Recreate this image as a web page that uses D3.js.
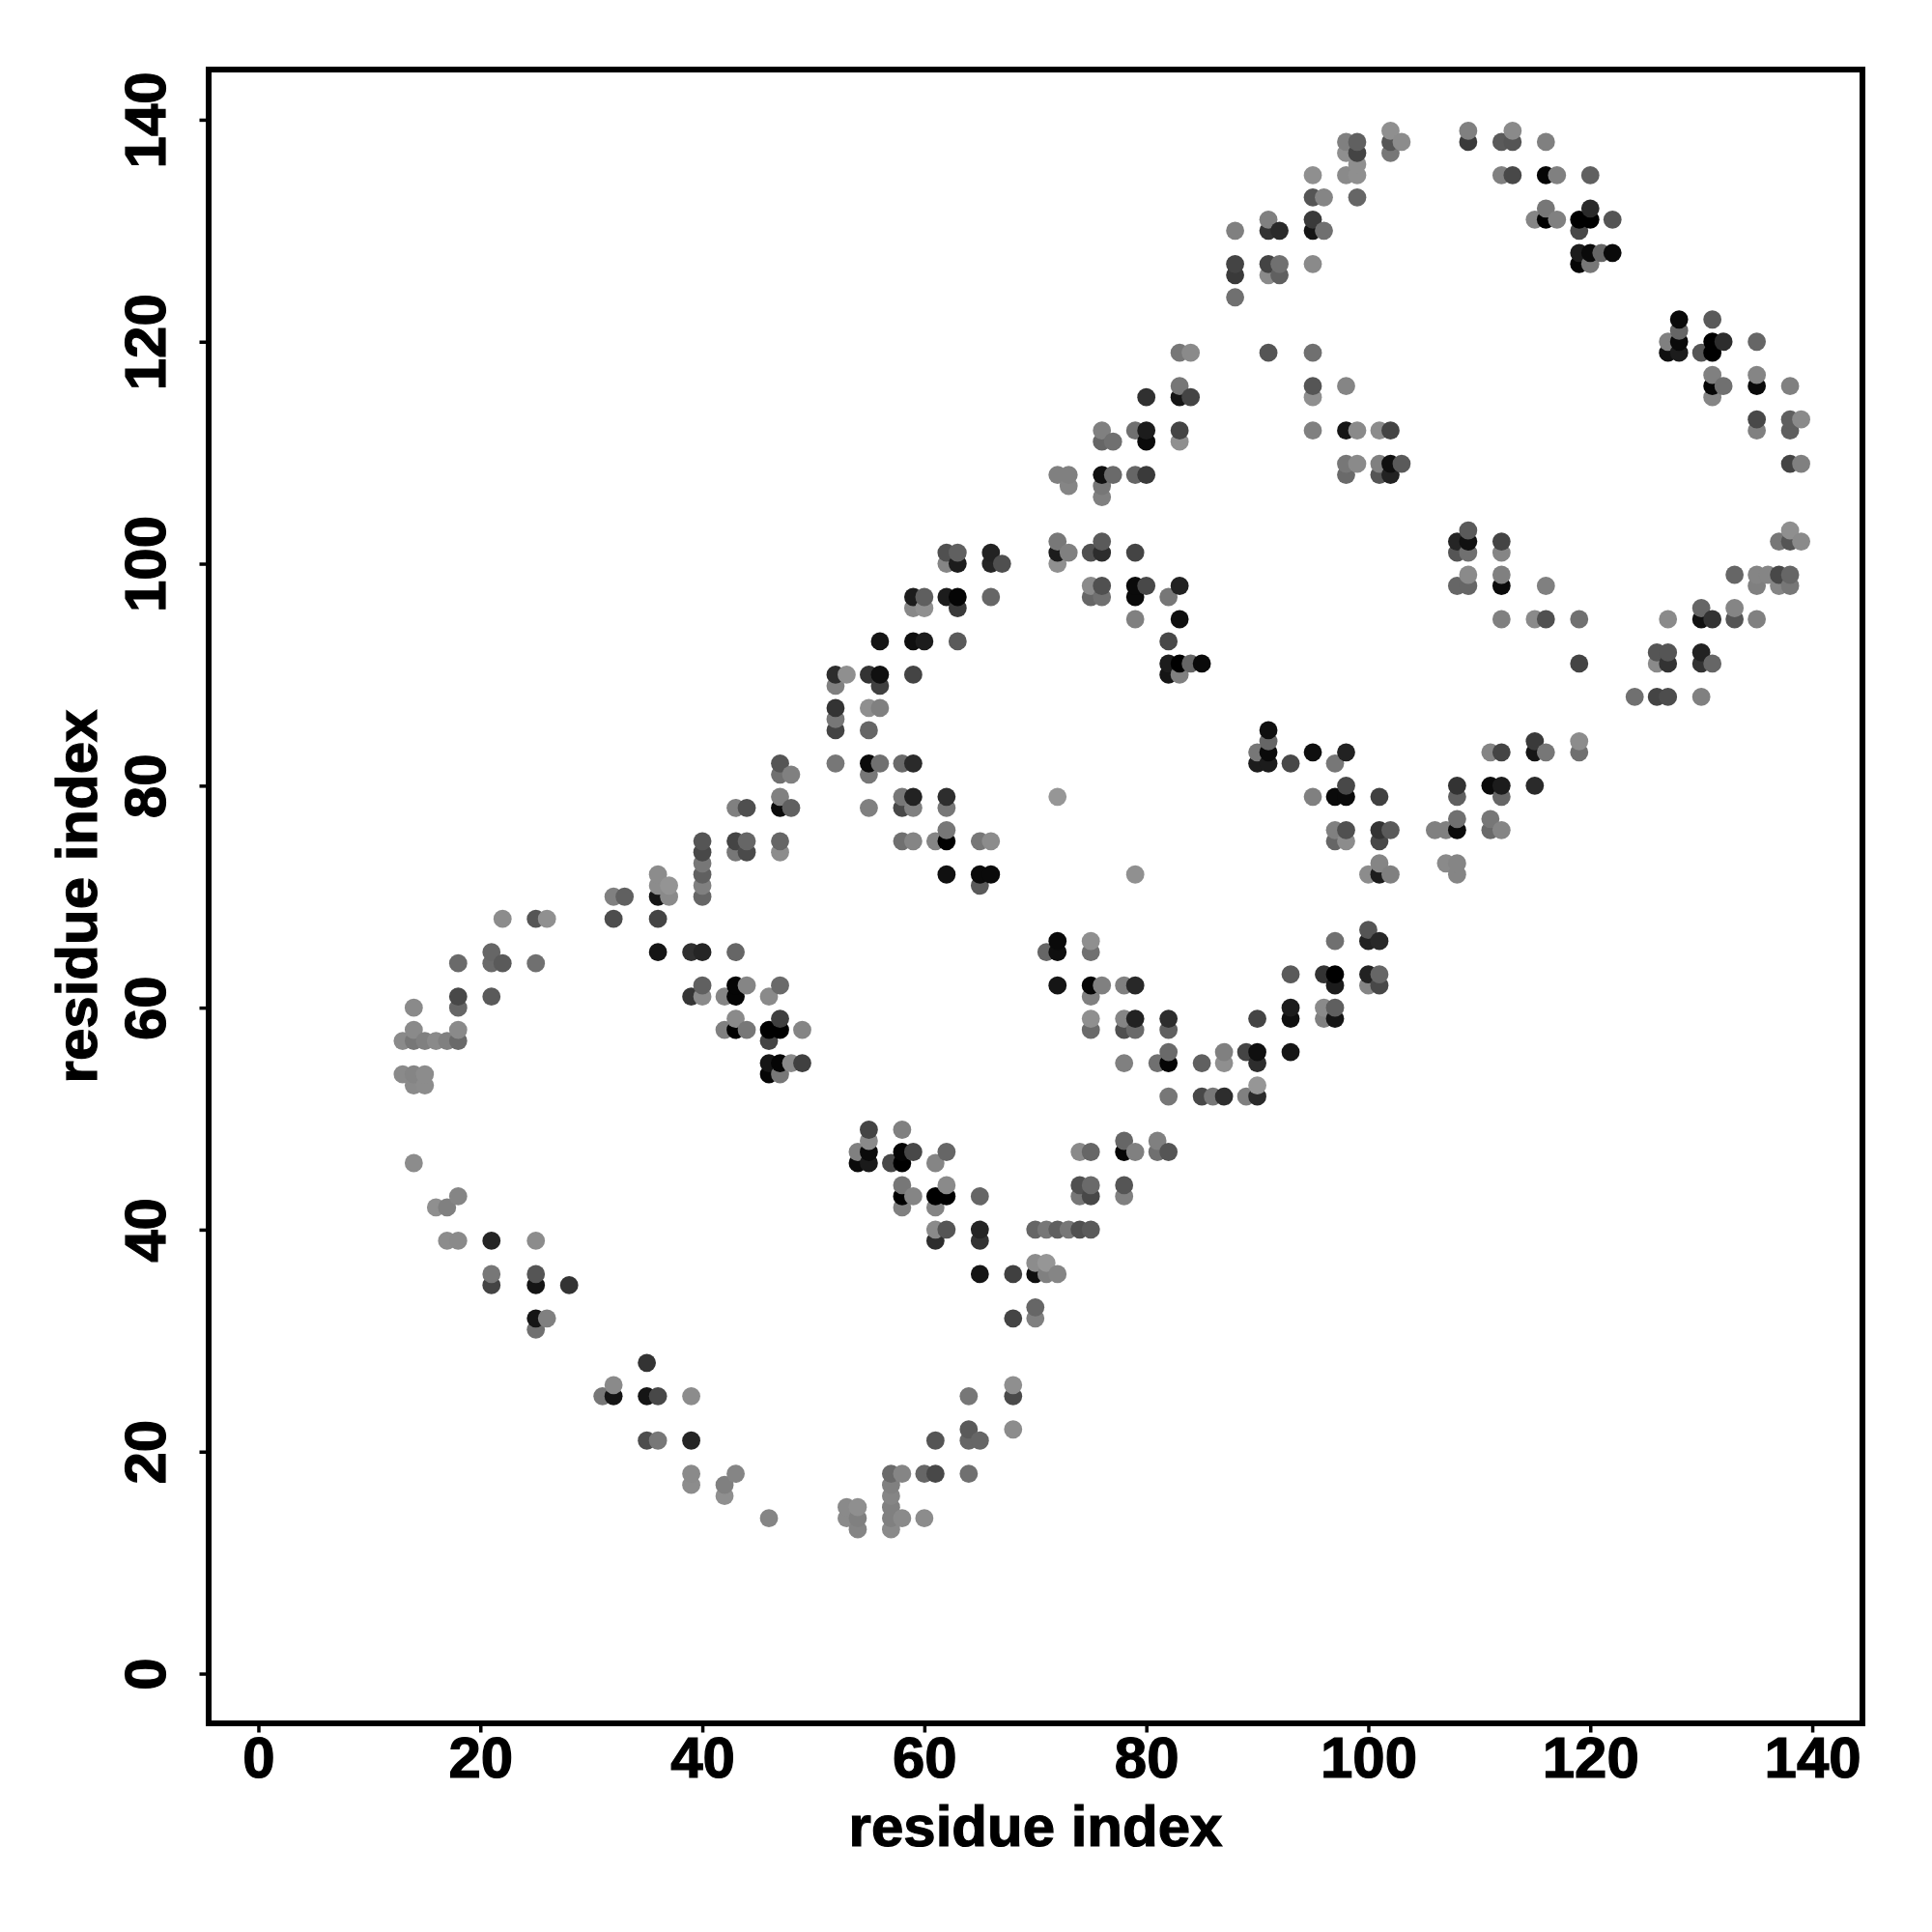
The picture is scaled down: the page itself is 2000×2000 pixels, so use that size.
<!DOCTYPE html>
<html><head><meta charset="utf-8">
<script src="https://cdn.jsdelivr.net/npm/d3@7/dist/d3.min.js"></script>
<style>html,body{margin:0;background:#fff}svg{display:block}</style></head>
<body><div id="chart"></div>
<script>
const axisTitle = "residue index";
const tickValues = [0,20,40,60,80,100,120,140];
// one row per residue j: the residues i in contact, and the grey level of each dot
const rowY = [139,138,137,136,135,133,132,131,130,128,127,126,124,122,121,120,119,117,116,115,113,112,111,109,108,107,106,103,102,101,100,99,98,97,96,95,93,92,91,90,89,88,87,86,85,84,83,82,81,80,79,78,77,76,75,74,73,72,71,70,68,67,66,65,64,63,62,61,60,59,58,57,56,55,54,53,52,49,48,47,46,44,43,42,40,39,37,36,35,33,32,31,28,26,25,22,21,18,17,16,15,14,13];
const rowX = [
[102,109,113],[98,99,102,103,109,112,113,116],[98,99,102],[99],[95,98,99,112,113,116,117,120],
[95,96,99],[116,120],[91,95,115,116,117,119,120,122],[88,91,92,95,96,119],[119,120,121,122],
[88,91,92,95,119,120],[88,91,92],[88],[128,131],[128],[127,128,131,132,135],
[83,84,91,95,127,128,130,131],[131,135],[83,95,98,131,132,135,138],[80,83,84,95,131],[135,138,139],
[76,79,80,83,95,98,99,101,102,135,138],[76,77,80,83],[98,99,101,102,103,138,139],
[72,73,76,77,79,80,98,101,102],[73,76],[76],[109,138],[72,76,108,109,112,137,138,139],
[62,63,66,72,73,75,76,79,108,109,112],[62,63,66,67,72],[109,112,133,135,136,137,138],
[75,76,79,80,83,108,109,112,116,135,137,138],[59,60,62,63,66,75,76,79,82],[59,60,63,130,133],
[79,83,112,115,116,119,127,130,131,133,135],[56,59,60,63,82],[126,127,130],
[82,83,84,85,119,126,127,130,131],[52,53,55,56,59,82,83],[52,56],[124,126,127,130],[52,55,56],[52],
[52,55,91],[91,115,119],[90,91,95,98,111,112,115,116,119],[47,52,55,56,58,59,90,91,93,97],[47,48,55],
[98,108,111,112,115],[47,58,59,62,72,95,97,98,101,108,112],[43,44,47,48,55,58,59,62],[108,111],
[62,97,98,101,102,106,107,108,111,112],[40,43,44,47,58,59,61,62,65,66,97,98,101],[40,43,44,47],
[40,101,107,108],[36,40,62,65,66,79,100,101,102,108],[36,37,40,65],[32,33,36,37,40],[22,25,26,32,36],
[100],[72,75,97,100,101],[21,36,39,40,43,71,72,75],[18,21,22,25],[93,96,97,100,101],
[40,43,44,47,72,75,76,78,79,97,100,101],[18,21,39,40,42,43,46,75],[14,18,93,96,97],
[43,47,75,78,79,82,90,93,96,97],[14,18,42,43,44,46,47,49,75,78,79,82],[13,14,15,16,17,18,46],
[82,87,89,90,93],[46,47,48,49,78,81,82,85,87,90],[13,14,15,46,47],[14,15,90],[82,85,86,87,89,90],
[55,58],[55,78,81],[54,55,58,59,62,74,75,78,79,81,82],[14,54,55,57,58,61],[58,62,74,75,78],
[18,58,59,61,62,65,74,75,78],[16,17,58,61],[61,62,65,70,71,72,73,74,75],[17,18,21,25,61,65],[70,71],
[21,25,65,68,70,71,72],[21,25,28],[70],[25,26,68,70],[25],[35],[32,68],[31,32,35,36,39,64,68],[64,68],
[35,36,39,61,64,65],[39,43,57,58,60,61,64],[39,42,57],[42,57],[53,54,57],[46,53,54,57,58,60],[54,57]
];
const rowShade = [
[0x8f,0x80,0x8a],[0x80,0x60,0x55,0x8c,0x3a,0x5a,0x55,0x80],[0x8f,0x44,0x77],[0x8f],[0x8f,0x8a,0x8f,0x80,0x48,0x05,0x80,0x60],
[0x55,0x85,0x66],[0x77,0x2a],[0x80,0x3a,0x85,0x00,0x80,0x00,0x00,0x55],[0x80,0x33,0x2a,0x15,0x70,0x48],[0x1c,0x0a,0x66,0x0a],
[0x44,0x44,0x70,0x8a,0x05,0x77],[0x3a,0x8a,0x60],[0x70],[0x0a,0x5a],[0x66],[0x80,0x0a,0x00,0x2d,0x66],
[0x77,0x8a,0x55,0x70,0x10,0x1c,0x55,0x00],[0x80,0x85],[0x77,0x55,0x85,0x05,0x70,0x0a,0x80],[0x30,0x15,0x44,0x8f,0x85],[0x48,0x5f,0x8a],
[0x80,0x70,0x1c,0x44,0x80,0x15,0x8a,0x8c,0x44,0x80,0x5f],[0x66,0x70,0x0a,0x8f],[0x77,0x8a,0x80,0x0f,0x5a,0x44,0x80],
[0x80,0x80,0x10,0x6a,0x66,0x3a,0x6a,0x55,0x22],[0x85,0x77],[0x80],[0x5a,0x8f],[0x78,0x5a,0x25,0x10,0x44,0x77,0x55,0x8a],
[0x50,0x60,0x22,0x1c,0x80,0x50,0x2d,0x44,0x55,0x70,0x85],[0x85,0x1c,0x25,0x4f,0x8f],[0x8a,0x80,0x66,0x85,0x85,0x48,0x66],
[0x8a,0x50,0x0a,0x48,0x22,0x66,0x66,0x0a,0x80,0x80,0x85,0x77],[0x1c,0x5f,0x1c,0x05,0x66,0x66,0x70,0x0a,0x77],[0x88,0x90,0x3a,0x66,0x85],
[0x80,0x0f,0x80,0x8a,0x50,0x70,0x8a,0x11,0x33,0x55,0x80],[0x15,0x0f,0x1c,0x5a,0x48],[0x55,0x55,0x22],
[0x1c,0x00,0x66,0x0a,0x44,0x8a,0x33,0x33,0x66],[0x2d,0x8f,0x33,0x10,0x44,0x15,0x80],[0x80,0x40],[0x70,0x44,0x4d,0x80],[0x33,0x8f,0x80],[0x77],
[0x44,0x66,0x0f],[0x66,0x3a,0x8c],[0x77,0x0a,0x0f,0x22,0x85,0x44,0x15,0x77,0x70],[0x55,0x77,0x0a,0x70,0x6a,0x2a,0x1c,0x1c,0x48,0x77],[0x70,0x80,0x77],
[0x48,0x33,0x0a,0x1c,0x2a],[0x80,0x77,0x22,0x2d,0x96,0x80,0x0a,0x0a,0x40,0x60,0x66],[0x80,0x4f,0x0a,0x60,0x80,0x48,0x80,0x77],[0x70,0x77],
[0x77,0x80,0x50,0x33,0x5a,0x80,0x80,0x0a,0x6a,0x85],[0x55,0x44,0x66,0x66,0x70,0x85,0x85,0x00,0x77,0x8c,0x66,0x8c,0x48],[0x48,0x77,0x4a,0x8c],
[0x77,0x85,0x8a,0x85],[0x8c,0x60,0x10,0x0a,0x0a,0x90,0x8c,0x1c,0x80,0x85],[0x8c,0x94,0x80,0x5a],[0x80,0x60,0x15,0x8a,0x66],[0x8c,0x55,0x90,0x4d,0x44],
[0x55],[0x0a,0x8f,0x70,0x22,0x28],[0x66,0x15,0x30,0x25,0x66,0x66,0x0f,0x70],[0x6a,0x6a,0x5a,0x70],[0x5a,0x33,0x00,0x22,0x66],
[0x60,0x05,0x85,0x6a,0x15,0x05,0x80,0x80,0x28,0x1c,0x85,0x48],[0x48,0x5a,0x35,0x8a,0x85,0x05,0x8a,0x80],[0x8a,0x66,0x1c,0x8a,0x5f],
[0x8a,0x3f,0x8f,0x85,0x22,0x2d,0x44,0x0f,0x80,0x15],[0x8a,0x8a,0x80,0x00,0x77,0x00,0x00,0x85,0x6a,0x50,0x6a,0x60],[0x8a,0x77,0x80,0x8a,0x80,0x6a,0x44],
[0x6a,0x80,0x44,0x0f,0x15],[0x15,0x05,0x8a,0x40,0x80,0x70,0x05,0x60,0x8f,0x2d],[0x8a,0x85,0x8c,0x05,0x77],[0x8a,0x8c,0x96],[0x77,0x48,0x77,0x2d,0x80,0x2a],
[0x44,0x80],[0x8a,0x66,0x80],[0x80,0x0a,0x05,0x48,0x66,0x8a,0x66,0x05,0x80,0x70,0x55],[0x8c,0x0a,0x1a,0x48,0x00,0x85],[0x77,0x8a,0x50,0x6a,0x55],
[0x85,0x00,0x85,0x00,0x00,0x66,0x77,0x48,0x80],[0x8f,0x80,0x80,0x85],[0x8a,0x55,0x25,0x66,0x77,0x60,0x77,0x50,0x5a],[0x8c,0x8a,0x25,0x8c,0x2d,0x33],[0x8c,0x96],
[0x77,0x55,0x15,0x40,0x0f,0x80,0x85],[0x44,0x15,0x33],[0x66],[0x15,0x80,0x44,0x80],[0x70],[0x33],[0x8a,0x8f],[0x77,0x15,0x15,0x48,0x8c,0x77,0x4a],[0x5a,0x8c],
[0x4d,0x77,0x25,0x55,0x66,0x66],[0x8a,0x85,0x6a,0x85,0x66,0x48,0x70],[0x8c,0x80,0x80],[0x8f,0x85],[0x8a,0x8f,0x80],[0x85,0x8a,0x80,0x80,0x8a,0x8c],[0x85,0x8a]
];

const points = rowY.flatMap((y, r) => rowX[r].map((x, k) => ({x, y, shade: rowShade[r][k]})))
  .sort((a, b) => d3.ascending(a.x, b.x) || d3.ascending(a.y, b.y));

const frame = {left: 216, right: 1928, top: 72, bottom: 1784};
const domain = [-4.48, 144.52];
const x = d3.scaleLinear().domain(domain).range([frame.left, frame.right]);
const y = d3.scaleLinear().domain(domain).range([frame.bottom, frame.top]);
const font = '"Liberation Sans", Arial, Helvetica, sans-serif';

const svg = d3.select("#chart").append("svg").attr("width", 2000).attr("height", 2000)
  .style("background", "#fff").attr("font-family", font);

svg.append("g").selectAll("circle").data(points).join("circle")
  .attr("cx", d => x(d.x)).attr("cy", d => y(d.y)).attr("r", 9.4)
  .attr("fill", d => d3.rgb(d.shade, d.shade, d.shade).formatHex());

const gx = svg.append("g").attr("transform", `translate(0,${frame.bottom})`)
  .call(d3.axisBottom(x).tickValues(tickValues).tickSize(9.5).tickSizeOuter(0));
const gy = svg.append("g").attr("transform", `translate(${frame.left},0)`)
  .call(d3.axisLeft(y).tickValues(tickValues).tickSize(9.5).tickSizeOuter(0));
[gx, gy].forEach(g => {
  g.select(".domain").remove();
  g.selectAll("line").attr("stroke", "#000").attr("stroke-width", 3.5);
  g.selectAll("text").attr("font-family", font).attr("font-weight", "bold").attr("font-size", 60)
    .attr("fill", "#000").attr("stroke", "#000").attr("stroke-width", 1.2);
});
gx.selectAll("text").attr("y", 56).attr("dy", 0).attr("text-anchor", "middle");
gy.selectAll("text").attr("x", 0).attr("y", 0).attr("dy", 0).attr("text-anchor", "middle")
  .attr("transform", "translate(-45,0) rotate(-90)");

svg.append("rect").attr("x", frame.left).attr("y", frame.top)
  .attr("width", frame.right - frame.left).attr("height", frame.bottom - frame.top)
  .attr("fill", "none").attr("stroke", "#000").attr("stroke-width", 6);

svg.append("text").attr("x", (frame.left + frame.right) / 2).attr("y", 1911)
  .attr("text-anchor", "middle").attr("font-weight", "bold").attr("font-size", 60)
  .attr("stroke", "#000").attr("stroke-width", 1.2).text(axisTitle);
svg.append("text").attr("transform", `translate(100,${(frame.top + frame.bottom) / 2}) rotate(-90)`)
  .attr("text-anchor", "middle").attr("font-weight", "bold").attr("font-size", 60)
  .attr("stroke", "#000").attr("stroke-width", 1.2).text(axisTitle);
</script></body></html>
